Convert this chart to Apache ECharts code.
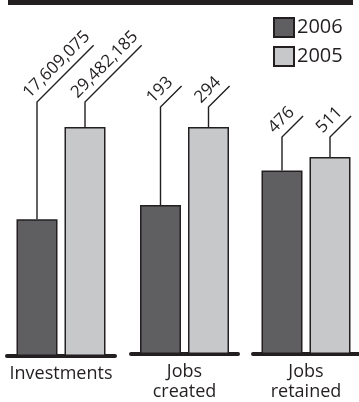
<!DOCTYPE html>
<html><head><meta charset="utf-8">
<script src="https://cdn.jsdelivr.net/npm/echarts@6/dist/echarts.min.js"></script>
<style>html,body{margin:0;padding:0;background:#fff}#c{width:359px;height:402px}</style>
</head><body><div id="c"></div>
<script>
// ---- data ----
const categories = ['Investments', 'Jobs\ncreated', 'Jobs\nretained'];
const seriesNames = ['2006', '2005'];
const values2006 = [17609075, 193, 476];
const values2005 = [29482185, 294, 511];

// ---- style / layout ----
const FONT = '"Open Sans", "Noto Sans", sans-serif';
const WEIGHT = 500;
const INK = '#231f20';
const COLORS = ['#5f5f61', '#c7c8ca'];
const BAR_W = 41, BAR_GAP = 7;
const groupLayout = [
  { left: 7, width: 108, top: 127, elbowGap: 25 },
  { left: 131, width: 107, top: 127, elbowGap: 20 },
  { left: 253, width: 108, top: 157, elbowGap: 20 }
];
const BASE_BOTTOM = 46;
const VAL_FONT_SIZE = 17;

const fmt = v => v.toLocaleString('en-US');
const mctx = document.createElement('canvas').getContext('2d');
function textWidth(t) { mctx.font = WEIGHT + ' ' + VAL_FONT_SIZE + 'px ' + FONT; return mctx.measureText(t).width; }

const chart = echarts.init(document.getElementById('c'), null, { renderer: 'canvas' });
const grids = [], xAxes = [], yAxes = [], series = [];
const allValues = [values2006, values2005];

categories.forEach((cat, i) => {
  const g = groupLayout[i];
  grids.push({ left: g.left, width: g.width, top: g.top, bottom: BASE_BOTTOM, containLabel: false });
  xAxes.push({
    type: 'category', gridIndex: i, data: [cat],
    axisTick: { show: false },
    axisLine: { show: true, lineStyle: { color: INK, width: 4, cap: 'round' } },
    axisLabel: { interval: 0, margin: 8, fontFamily: FONT, fontWeight: WEIGHT, fontSize: 18, lineHeight: 20, color: INK, align: 'center' }
  });
  yAxes.push({ type: 'value', gridIndex: i, min: 0, max: 'dataMax', show: false, splitLine: { show: false } });
  seriesNames.forEach((name, s) => {
    series.push({
      type: 'bar', name: name, xAxisIndex: i, yAxisIndex: i,
      data: [allValues[s][i]], barWidth: BAR_W, barGap: (BAR_GAP / BAR_W * 100) + '%',
      itemStyle: { color: COLORS[s], borderColor: INK, borderWidth: 1.5 },
      z: 3
    });
  });
  const groupMax = Math.max(values2006[i], values2005[i]);
  series.push({
    type: 'custom', name: 'leader' + i, xAxisIndex: i, yAxisIndex: i, z: 4,
    data: seriesNames.map((n, s) => [0, allValues[s][i], s, groupMax]),
    renderItem: function (params, api) {
      const val = api.value(1), s = api.value(2), gmax = api.value(3);
      const top = api.coord([0, val]);
      const tmax = api.coord([0, gmax]);
      const cx = top[0] + (s === 0 ? -1 : 1) * (BAR_W + BAR_GAP) / 2;
      const ey = tmax[1] - g.elbowGap;
      const label = fmt(val);
      const L = textWidth(label) * 0.62 + 3;
      return {
        type: 'group',
        children: [
          { type: 'polyline', shape: { points: [[cx, top[1]], [cx, ey], [cx + L, ey - L]] },
            style: { stroke: INK, lineWidth: 1.4, fill: null } },
          { type: 'group', x: cx, y: ey, rotation: Math.PI / 4,
            children: [{ type: 'text', x: -3, y: -4,
              style: { text: label, fill: INK, font: WEIGHT + ' ' + VAL_FONT_SIZE + 'px ' + FONT, align: 'left', verticalAlign: 'bottom' } }] }
        ]
      };
    }
  });
});

chart.setOption({
  animation: false,
  backgroundColor: '#fff',
  grid: grids, xAxis: xAxes, yAxis: yAxes, series: series,
  legend: {
    data: seriesNames, orient: 'vertical', left: 273, top: 17, padding: 0,
    icon: 'rect', itemWidth: 20, itemHeight: 19, itemGap: 8,
    textStyle: { fontFamily: FONT, fontWeight: WEIGHT, fontSize: 20, color: INK, padding: [0, 0, 0, -2] },
    selectedMode: false
  },
  graphic: [
    { type: 'rect', left: 8, top: 0, shape: { width: 345, height: 5 }, style: { fill: INK } }
  ]
});
</script>
</body></html>
